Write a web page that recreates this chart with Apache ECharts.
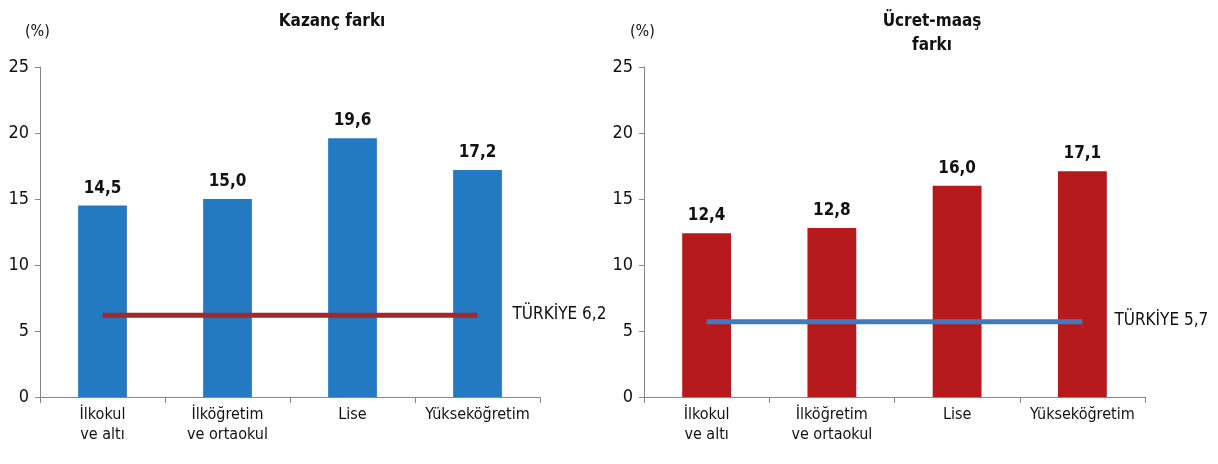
<!DOCTYPE html>
<html>
<head>
<meta charset="utf-8">
<script src="https://cdn.jsdelivr.net/npm/echarts@6/dist/echarts.min.js"></script>
<style>
html,body{margin:0;padding:0;background:#fff;}
#c{width:1218px;height:464px;}
</style>
</head>
<body>
<div id="c"></div>
<script>
// ---- data ----
var categories = ['İlkokul\nve altı', 'İlköğretim\nve ortaokul', 'Lise', 'Yükseköğretim'];
var kazancValues = [14.5, 15.0, 19.6, 17.2];
var ucretValues = [12.4, 12.8, 16.0, 17.1];
var turkiyeKazanc = 6.2;
var turkiyeUcret = 5.7;
var yTicks = [0, 5, 10, 15, 20, 25];
var titleLeft = 'Kazanç farkı';
var titleRight = 'Ücret-maaş\nfarkı';
var unitLabel = '(%)';
var turkiyeName = 'TÜRKİYE';

// ---- helpers ----
var FONT = '"DejaVu Sans Condensed", "Liberation Sans Narrow", "Liberation Sans", sans-serif';
function fmt(v){ return v.toFixed(1).replace('.', ','); }
function flat(v){ return categories.map(function(){ return v; }); }

var chart = echarts.init(document.getElementById('c'), null, {renderer:'canvas'});

function xAxisCfg(idx){
  return {
    type:'category', gridIndex:idx, data:categories,
    axisLine:{show:true, lineStyle:{color:'#868686', width:1}},
    axisTick:{show:true, alignWithLabel:false, length:6, lineStyle:{color:'#868686'}},
    axisLabel:{interval:0, color:'#111', fontFamily:FONT, fontSize:16, lineHeight:20, margin:8},
    splitLine:{show:false}
  };
}
function yAxisCfg(idx){
  return {
    type:'value', gridIndex:idx, min:yTicks[0], max:yTicks[yTicks.length-1], interval:5,
    axisLine:{show:true, lineStyle:{color:'#868686', width:1}},
    axisTick:{show:true, length:5, lineStyle:{color:'#868686'}},
    axisLabel:{color:'#111', fontFamily:FONT, fontSize:18, margin:11},
    splitLine:{show:false}
  };
}
function barSeries(idx, data, color){
  return {
    type:'bar', xAxisIndex:idx, yAxisIndex:idx, data:data, barWidth:'39%',
    itemStyle:{color:color},
    label:{show:true, position:'top', distance:9, color:'#111', fontFamily:FONT,
      fontSize:17, fontWeight:'bold', formatter:function(p){ return fmt(p.value); }},
    z:2
  };
}
function lineSeries(idx, v, color, dx){
  return {
    type:'line', xAxisIndex:idx, yAxisIndex:idx, data:flat(v),
    symbol:'none', lineStyle:{color:color, width:5}, z:3,
    endLabel:{show:true, offset:[dx,-1], color:'#111', fontFamily:FONT, fontSize:17,
      formatter:function(){ return turkiyeName + ' ' + fmt(v); }}
  };
}

chart.setOption({
  animation:false,
  backgroundColor:'#fff',
  title:[
    {text:titleLeft, left:327, top:8, textAlign:'center',
      textStyle:{fontFamily:FONT, fontSize:17, fontWeight:'bold', color:'#111'}},
    {text:titleRight, left:927, top:5, textAlign:'center',
      textStyle:{fontFamily:FONT, fontSize:17, fontWeight:'bold', color:'#111', lineHeight:24}}
  ],
  graphic:[
    {type:'text', left:25, top:24, style:{text:unitLabel, fontFamily:FONT, fontSize:16, fill:'#111'}},
    {type:'text', left:630, top:24, style:{text:unitLabel, fontFamily:FONT, fontSize:16, fill:'#111'}}
  ],
  grid:[
    {left:40, right:678, top:67, bottom:67},
    {left:644, right:73, top:67, bottom:67}
  ],
  xAxis:[xAxisCfg(0), xAxisCfg(1)],
  yAxis:[yAxisCfg(0), yAxisCfg(1)],
  series:[
    barSeries(0, kazancValues, '#2479C3'),
    lineSeries(0, turkiyeKazanc, '#9E2A2E', 27),
    barSeries(1, ucretValues, '#B61A1C'),
    lineSeries(1, turkiyeUcret, '#4279BC', 24)
  ]
});
</script>
</body>
</html>
